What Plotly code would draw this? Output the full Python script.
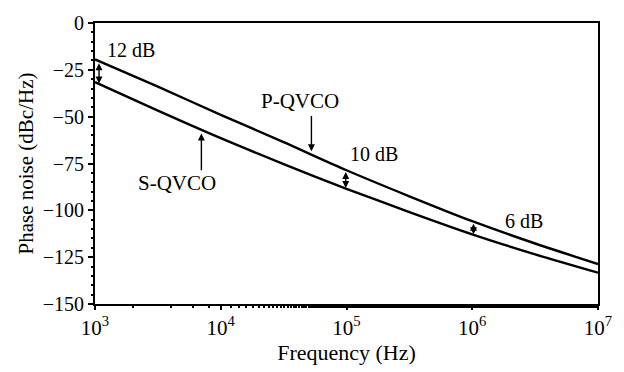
import numpy as np
import plotly.graph_objects as go

# Data
freq_hz = [1e3, 3162, 1e4, 31623, 1e5, 316228, 1e6, 3162278, 1e7]
p_qvco = [-19.4, -34.0, -49.0, -63.6, -78.6, -92.5, -105.8, -117.7, -128.7]
s_qvco = [-31.6, -46.8, -61.5, -75.3, -88.5, -100.9, -112.8, -123.5, -133.3]
x_tick_vals = [1e3, 1e4, 1e5, 1e6, 1e7]
x_tick_text = ["10<sup>3</sup>", "10<sup>4</sup>", "10<sup>5</sup>", "10<sup>6</sup>", "10<sup>7</sup>"]
y_tick_vals = [0, -25, -50, -75, -100, -125, -150]
y_tick_text = ["0", "\u221225", "\u221250", "\u221275", "\u2212100", "\u2212125", "\u2212150"]
gap_labels = ["12 dB", "10 dB", "6 dB"]
gap_freq_log = [3.032, 4.994, 6.01]

FONT = "Liberation Serif"
lx = np.log10(freq_hz)


def interp(series, xl):
    return float(np.interp(xl, lx, series))


fig = go.Figure()
for name, ys in [("P-QVCO", p_qvco), ("S-QVCO", s_qvco)]:
    fig.add_trace(go.Scatter(x=freq_hz, y=ys, mode="lines", name=name,
                             line=dict(color="black", width=2.4, shape="spline", smoothing=0.8),
                             showlegend=False))

ann = []
# double arrows between curves
for xl in gap_freq_log:
    yt = interp(p_qvco, xl)
    yb = interp(s_qvco, xl)
    ann.append(dict(x=xl, y=yb + 0.3, ax=xl, ay=yt - 0.3, xref="x", yref="y", axref="x", ayref="y",
                    text="", showarrow=True, arrowhead=2, arrowside="end+start", arrowsize=1,
                    arrowwidth=1.4, arrowcolor="black", standoff=0, startstandoff=0))
# gap labels
label_pos = [(3.079, -14.3, "left"), (5.221, -70.1, "center"), (6.413, -105.5, "center")]
for (xl, yl, anc), t in zip(label_pos, gap_labels):
    ann.append(dict(x=xl, y=yl, xref="x", yref="y", text=t, showarrow=False,
                    xanchor=anc, yanchor="middle", font=dict(family=FONT, size=20, color="black")))
# curve labels
ann.append(dict(x=4.628, y=-41.8, xref="x", yref="y", text="P-QVCO", showarrow=False,
                xanchor="center", yanchor="middle", font=dict(family=FONT, size=21, color="black")))
ann.append(dict(x=3.652, y=-85.2, xref="x", yref="y", text="S-QVCO", showarrow=False,
                xanchor="center", yanchor="middle", font=dict(family=FONT, size=21, color="black")))
# pointer arrows
ann.append(dict(x=4.721, y=-68.4, ax=4.721, ay=-48.8, xref="x", yref="y", axref="x", ayref="y",
                text="", showarrow=True, arrowhead=2, arrowsize=1, arrowwidth=1.4, arrowcolor="black"))
ann.append(dict(x=3.846, y=-59.0, ax=3.846, ay=-79.4, xref="x", yref="y", axref="x", ayref="y",
                text="", showarrow=True, arrowhead=2, arrowsize=1, arrowwidth=1.4, arrowcolor="black"))

fig.update_layout(
    width=624, height=372,
    margin=dict(l=95, r=23, t=16, b=62),
    paper_bgcolor="white", plot_bgcolor="white",
    font=dict(family=FONT, size=20, color="black"),
    annotations=ann,
    xaxis=dict(type="log", range=[3, 7], tickvals=x_tick_vals, ticktext=x_tick_text,
               showgrid=False, zeroline=False, showline=True, linecolor="black", linewidth=2,
               mirror=True, ticks="outside", ticklen=4, tickwidth=1.5, tickcolor="black",
               minor=dict(ticks="outside", ticklen=2, tickwidth=1.5, tickcolor="black", showgrid=False),
               tickfont=dict(family=FONT, size=21), ticklabeloverflow="allow",
               title=dict(text="Frequency (Hz)", font=dict(family=FONT, size=22), standoff=4)),
    yaxis=dict(range=[-150, 0], tickvals=y_tick_vals, ticktext=y_tick_text,
               showgrid=False, zeroline=False, showline=True, linecolor="black", linewidth=2,
               mirror=True, ticks="outside", ticklen=5, tickwidth=1.5, tickcolor="black",
               minor=dict(dtick=5, ticks="outside", ticklen=2, tickwidth=1.5, tickcolor="black", showgrid=False),
               tickfont=dict(family=FONT, size=20), ticklabeloverflow="allow",
               title=dict(text="Phase noise (dBc/Hz)", font=dict(family=FONT, size=21), standoff=3)),
)

# remove the default page margin so the figure sits exactly in the 624x372 window
fig.write_html("out.html", config={"displayModeBar": False},
               post_script="document.body.style.margin='0';")
